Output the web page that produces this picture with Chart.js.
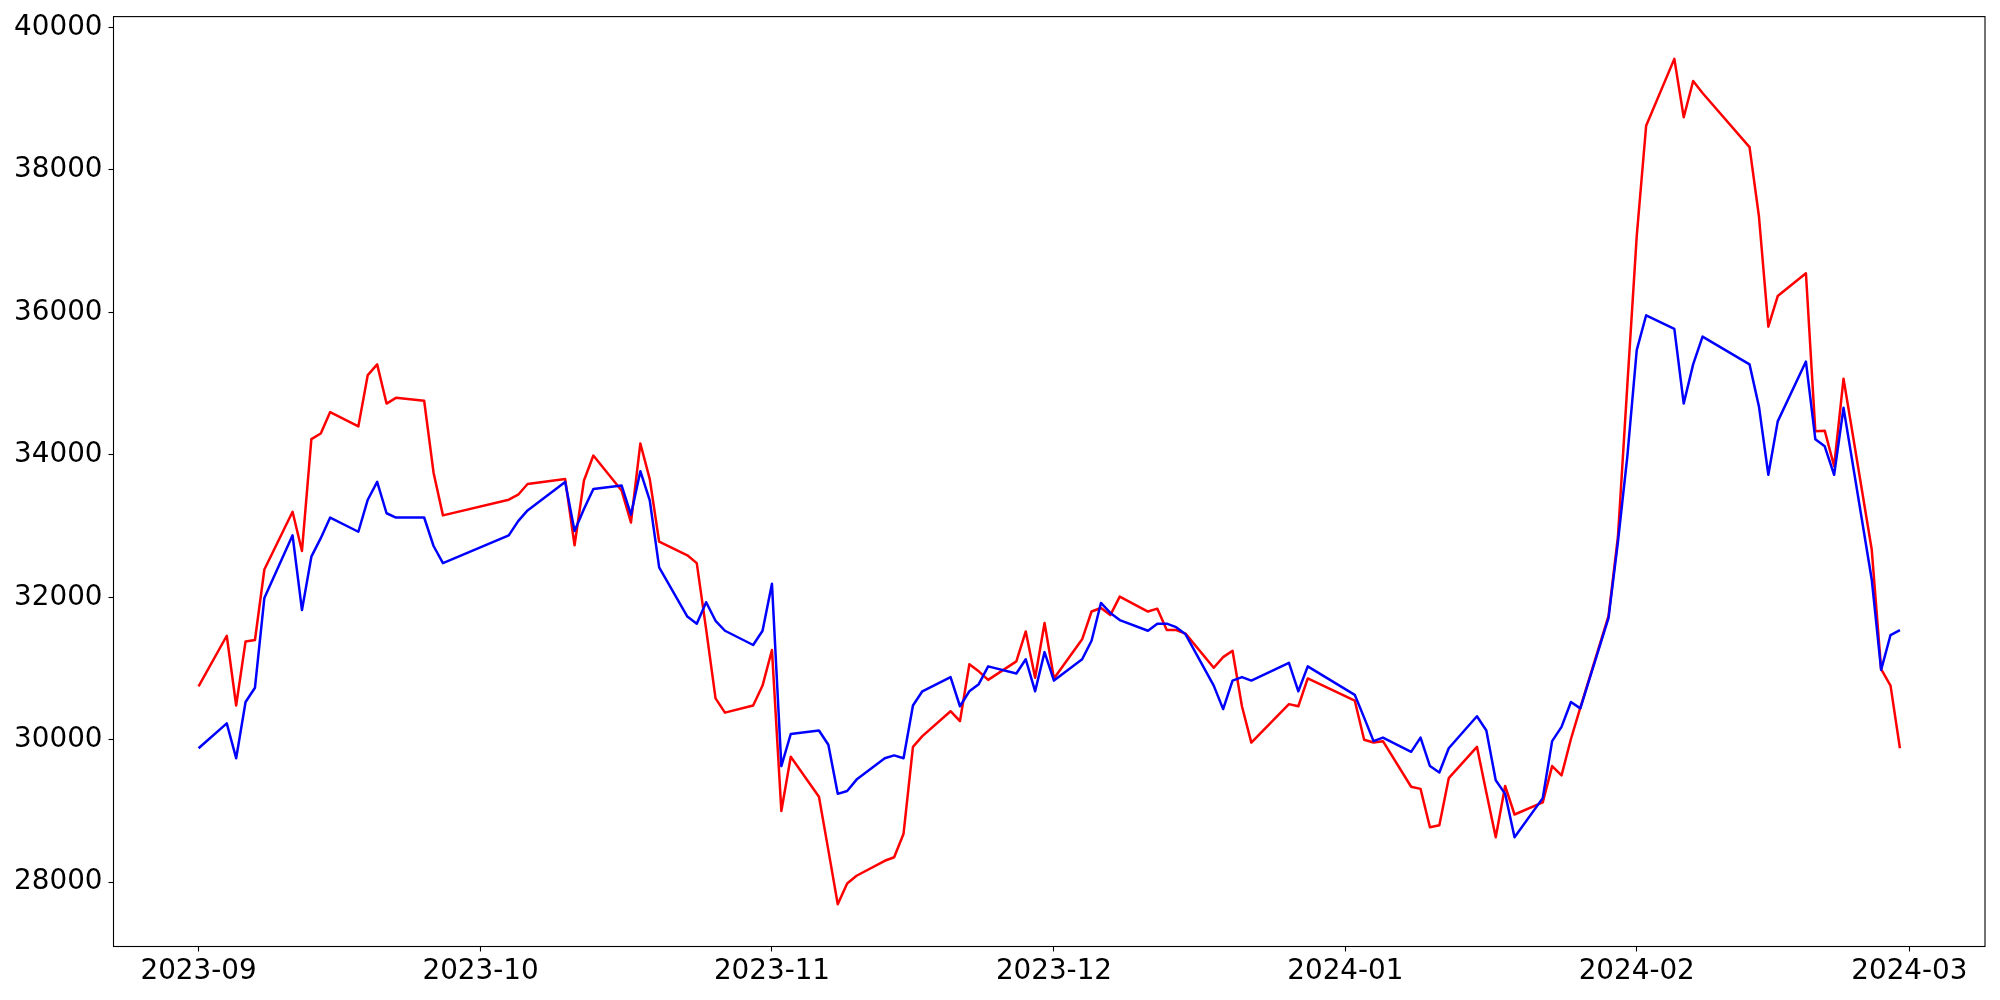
<!DOCTYPE html>
<html>
<head>
<meta charset="utf-8">
<script src="https://cdn.jsdelivr.net/npm/chart.js@4.4.1/dist/chart.umd.min.js"></script>
<style>
  html, body { margin: 0; padding: 0; background: #fff; }
  canvas { display: block; }
</style>
</head>
<body>
<canvas id="chart" width="2000" height="1000"></canvas>
<script>
// trading days (Korean calendar, Sep 2023 - Feb 2024)
const dates = [
  '2023-09-01', '2023-09-04', '2023-09-05', '2023-09-06', '2023-09-07', '2023-09-08',
  '2023-09-11', '2023-09-12', '2023-09-13', '2023-09-14', '2023-09-15',
  '2023-09-18', '2023-09-19', '2023-09-20', '2023-09-21', '2023-09-22',
  '2023-09-25', '2023-09-26', '2023-09-27',
  '2023-10-04', '2023-10-05', '2023-10-06',
  '2023-10-10', '2023-10-11', '2023-10-12', '2023-10-13',
  '2023-10-16', '2023-10-17', '2023-10-18', '2023-10-19', '2023-10-20',
  '2023-10-23', '2023-10-24', '2023-10-25', '2023-10-26', '2023-10-27',
  '2023-10-30', '2023-10-31',
  '2023-11-01', '2023-11-02', '2023-11-03',
  '2023-11-06', '2023-11-07', '2023-11-08', '2023-11-09', '2023-11-10',
  '2023-11-13', '2023-11-14', '2023-11-15', '2023-11-16', '2023-11-17',
  '2023-11-20', '2023-11-21', '2023-11-22', '2023-11-23', '2023-11-24',
  '2023-11-27', '2023-11-28', '2023-11-29', '2023-11-30',
  '2023-12-01',
  '2023-12-04', '2023-12-05', '2023-12-06', '2023-12-07', '2023-12-08',
  '2023-12-11', '2023-12-12', '2023-12-13', '2023-12-14', '2023-12-15',
  '2023-12-18', '2023-12-19', '2023-12-20', '2023-12-21', '2023-12-22',
  '2023-12-26', '2023-12-27', '2023-12-28',
  '2024-01-02', '2024-01-03', '2024-01-04', '2024-01-05',
  '2024-01-08', '2024-01-09', '2024-01-10', '2024-01-11', '2024-01-12',
  '2024-01-15', '2024-01-16', '2024-01-17', '2024-01-18', '2024-01-19',
  '2024-01-22', '2024-01-23', '2024-01-24', '2024-01-25', '2024-01-26',
  '2024-01-29', '2024-01-30', '2024-01-31',
  '2024-02-01', '2024-02-02',
  '2024-02-05', '2024-02-06', '2024-02-07', '2024-02-08',
  '2024-02-13', '2024-02-14', '2024-02-15', '2024-02-16',
  '2024-02-19', '2024-02-20', '2024-02-21', '2024-02-22', '2024-02-23',
  '2024-02-26', '2024-02-27', '2024-02-28', '2024-02-29',
]

const redSeries = [
  30750, 31460, 30480, 31380, 31400, 32390, 33200, 32650, 34220, 34300,
  34600, 34400, 35120, 35270, 34720, 34800, 34760, 33750, 33150,
  33370, 33440, 33590, 33660, 32730, 33640, 33990, 33500, 33050, 34160,
  33660, 32780, 32590, 32480, 31550, 30580, 30380, 30480, 30760,
  31260, 29000, 29760, 29200, 28450, 27690, 27980, 28090, 28300, 28350,
  28680, 29900, 30050, 30400, 30260, 31060, 30960, 30840, 31100, 31520,
  30870, 31640,
  30860, 31410, 31800, 31850, 31750, 32010, 31800, 31840, 31540, 31540,
  31490, 31010, 31160, 31250, 30470, 29960, 30500, 30470, 30860,
  30550, 30000, 29960, 29980, 29340, 29310, 28770, 28800, 29460, 29900,
  29260, 28630, 29350, 28950, 29120, 29630, 29500, 30010, 30450, 31740,
  32850, 34980,
  37070, 38620, 39560, 38740, 39250, 39080, 38320, 37350, 35800, 36230,
  36550, 34330, 34340, 33840, 35070, 32670, 30990, 30760, 29880,
]

const blueSeries = [
  29880, 30230, 29740, 30530, 30730, 31990, 32870, 31820, 32570, 32830,
  33120, 32920, 33370, 33620, 33180, 33120, 33120, 32720, 32480,
  32870, 33070, 33220, 33620, 32930, 33240, 33520, 33570, 33160, 33770,
  33360, 32420, 31730, 31630, 31930, 31670, 31530, 31330, 31530,
  32190, 29630, 30080, 30130, 29930, 29240, 29280, 29440, 29740, 29780,
  29740, 30480, 30680, 30880, 30470, 30680, 30780, 31030, 30930, 31130,
  30680, 31230,
  30830, 31130, 31390, 31920, 31780, 31680, 31530, 31630, 31630, 31580,
  31480, 30760, 30430, 30830, 30880, 30830, 31080, 30680, 31030,
  30630, 30310, 29980, 30030, 29830, 30030, 29630, 29540, 29880, 30330,
  30130, 29430, 29240, 28630, 29180, 29980, 30180, 30530, 30440, 31710,
  32780, 33980,
  35470, 35960, 35770, 34720, 35270, 35660, 35270, 34680, 33720, 34470,
  35310, 34220, 34120, 33720, 34660, 32250, 30980, 31470, 31540,
]

const monthTicks = ['2023-09', '2023-10', '2023-11', '2023-12', '2024-01', '2024-02', '2024-03']
const yTicks = [28000, 30000, 32000, 34000, 36000, 38000, 40000]

const DAY = 86400000
const origin = Date.UTC(2023, 8, 1)
const toDay = s => {
  const [y, m, d] = s.split('-').map(Number)
  return (Date.UTC(y, m - 1, d || 1) - origin) / DAY
}

const xs = dates.map(toDay)
const points = arr => arr.map((v, i) => ({ x: xs[i], y: v }))

// matplotlib style 5% margins
const xSpan = xs[xs.length - 1] - xs[0]
const allY = redSeries.concat(blueSeries)
const yLo = Math.min(...allY)
const yHi = Math.max(...allY)
const ySpan = yHi - yLo

const font = { family: 'DejaVu Sans', size: 27.8 }

const axesBox = {
  id: 'axesBox',
  afterDraw(chart) {
    const { ctx, chartArea: a } = chart
    ctx.save()
    ctx.strokeStyle = '#000'
    ctx.lineWidth = 1.1
    ctx.strokeRect(a.left, a.top, a.right - a.left, a.bottom - a.top)
    ctx.restore()
  },
}

new Chart(document.getElementById('chart'), {
  type: 'line',
  data: {
    datasets: [
      {
        data: points(redSeries),
        borderColor: '#ff0000',
        borderWidth: 2.5,
        pointRadius: 0,
        tension: 0,
        borderJoinStyle: 'round',
        order: 1,
      },
      {
        data: points(blueSeries),
        borderColor: '#0000ff',
        borderWidth: 2.5,
        pointRadius: 0,
        tension: 0,
        borderJoinStyle: 'round',
        order: 0,
      },
    ],
  },
  options: {
    responsive: false,
    devicePixelRatio: 1,
    animation: false,
    events: [],
    layout: { padding: { top: 16.6, right: 15, left: 0, bottom: 0 } },
    plugins: {
      legend: { display: false },
      tooltip: { enabled: false },
    },
    scales: {
      x: {
        type: 'linear',
        min: xs[0] - 0.05 * xSpan,
        max: xs[xs.length - 1] + 0.05 * xSpan,
        afterBuildTicks: scale => {
          scale.ticks = monthTicks.map(m => ({ value: toDay(m) }))
        },
        afterFit: scale => {
          scale.height = 53.5
          scale.paddingLeft = 0
          scale.paddingRight = 0
        },
        ticks: {
          color: '#000',
          font,
          padding: 4,
          maxRotation: 0,
          autoSkip: false,
          callback: v => monthTicks.find(m => toDay(m) === v) || '',
        },
        grid: {
          drawOnChartArea: false,
          drawTicks: true,
          tickLength: 5,
          tickColor: '#000',
          tickWidth: 1.1,
        },
        border: { display: false },
      },
      y: {
        type: 'linear',
        min: yLo - 0.05 * ySpan,
        max: yHi + 0.05 * ySpan,
        afterBuildTicks: scale => {
          scale.ticks = yTicks.map(v => ({ value: v }))
        },
        afterFit: scale => {
          scale.width = 113.5
          scale.paddingTop = 0
          scale.paddingBottom = 0
        },
        ticks: {
          color: '#000',
          font,
          padding: 6,
          callback: v => String(v),
        },
        grid: {
          drawOnChartArea: false,
          drawTicks: true,
          tickLength: 5,
          tickColor: '#000',
          tickWidth: 1.1,
        },
        border: { display: false },
      },
    },
  },
  plugins: [axesBox],
})
</script>
</body>
</html>
